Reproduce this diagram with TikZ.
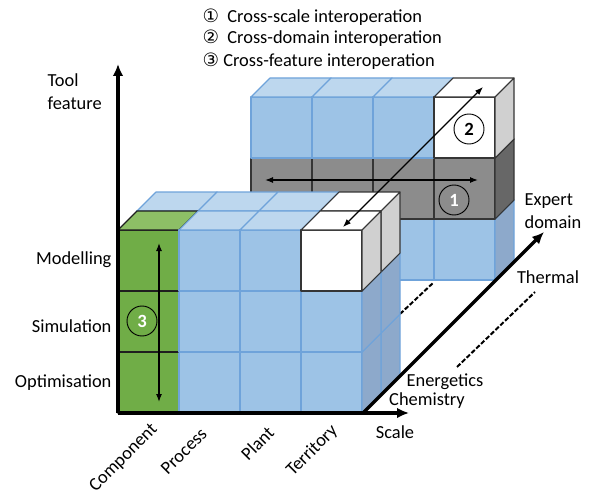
\documentclass[tikz,border=0pt]{standalone}
\usepackage{fontspec}
\setmainfont{Carlito}
\newfontfamily\circfont{DejaVu Sans}
\usepackage{xcolor}
\usetikzlibrary{arrows.meta,positioning}
\definecolor{bluefront}{HTML}{9DC3E6}
\definecolor{bluetop}{HTML}{BDD7EE}
\definecolor{blueside}{HTML}{8DA9CB}
\definecolor{blueline}{HTML}{6FA3DA}
\definecolor{greenfront}{HTML}{70AD47}
\definecolor{greentop}{HTML}{8DBF66}
\definecolor{greenside}{HTML}{5E9A38}
\definecolor{greenline}{HTML}{1E1E1E}
\definecolor{grayfront}{HTML}{8C8C8C}
\definecolor{graytop}{HTML}{A6A6A6}
\definecolor{grayside}{HTML}{676767}
\definecolor{grayline}{HTML}{353535}
\definecolor{whitefront}{HTML}{FFFFFF}
\definecolor{whitetop}{HTML}{FFFFFF}
\definecolor{whiteside}{HTML}{D0D0D0}
\definecolor{whiteline}{HTML}{353535}
\tikzset{
    cubeedge/.style={line width=0.8pt, line join=round},
    axis/.style={-{Latex[length=9pt,width=8pt]}, line width=2.5pt},
    link/.style={{Latex[length=6pt,width=4.5pt]}-{Latex[length=6pt,width=4.5pt]}, line width=0.9pt},
    badge/.style={circle, draw, line width=0.7pt, minimum size=22.5pt, inner sep=0pt,
                  font=\fontsize{14}{16}\selectfont\bfseries},
    lbl/.style={inner sep=1pt},
    dots/.style={dashed, dash pattern=on 3.5pt off 1.5pt, line width=1.5pt}
}
% one cube: column, row, depth, colour
\newcommand{\cube}[4]{%
  \begin{scope}[shift={({118+61*#1+19*#3},{413-61*#2-19*#3})}]
    \filldraw[cubeedge, fill=#4front, draw=#4line] (0,0) rectangle (61,-61);
    \filldraw[cubeedge, fill=#4top, draw=#4line] (0,-61) -- (19,-80) -- (80,-80) -- (61,-61) -- cycle;
    \filldraw[cubeedge, fill=#4side, draw=#4line] (61,0) -- (80,-19) -- (80,-80) -- (61,-61) -- cycle;
  \end{scope}}

\begin{document}
\begin{tikzpicture}[x=0.75pt, y=-0.75pt, font=\fontsize{13.8}{17.2}\selectfont]
  \useasboundingbox (0,0) rectangle (592,492);

  % thermal block
  \foreach \i/\j/\col in {0/0/blue,1/0/blue,2/0/blue,3/0/blue,
                          0/1/gray,1/1/gray,2/1/gray,3/1/gray,
                          0/2/blue,1/2/blue,2/2/blue,3/2/white}
    \cube{\i}{\j}{7}{\col};

  \coordinate (back1) at (400,314);
  \coordinate (back2) at (433,283);
  \draw[dots] (back1) -- (back2);

  % energetics
  \foreach \i/\j/\col in {0/0/blue,1/0/blue,2/0/blue,3/0/blue,
                          0/1/blue,1/1/blue,2/1/blue,3/1/blue,
                          0/2/blue,1/2/blue,2/2/blue,3/2/white}
    \cube{\i}{\j}{1}{\col};
  % chemistry
  \foreach \i/\j/\col in {0/0/green,1/0/blue,2/0/blue,3/0/blue,
                          0/1/green,1/1/blue,2/1/blue,3/1/blue,
                          0/2/green,1/2/blue,2/2/blue,3/2/white}
    \cube{\i}{\j}{0}{\col};

  % axes
  \coordinate (O) at (118,413);
  \coordinate (D) at (363,413);
  \coordinate (ytip) at (118,64);
  \coordinate (xtip) at (409,413);
  \coordinate (ztip) at (544,232);
  \draw[axis] (O) -- (ytip);
  \draw[axis] (O) -- (xtip);
  \draw[axis] (D) -- (ztip);

  \node[lbl, anchor=west, align=left] (feat) at (46,92) {Tool\\feature};
  \node[lbl, anchor=east] (mod) at (113,260) {Modelling};
  \node[lbl, anchor=east] (sim) at (113,326) {Simulation};
  \node[lbl, anchor=east] (opt) at (113,383) {Optimisation};

  \node[lbl, rotate=45, anchor=east] (comp) at (156,426) {Component};
  \node[lbl, rotate=45, anchor=east] (proc) at (205,430) {Process};
  \node[lbl, rotate=45, anchor=east] (plant) at (272,429) {Plant};
  \node[lbl, rotate=45, anchor=east] (terr) at (336,427) {Territory};
  \node[lbl] (scale) at (395,432) {Scale};

  \node[lbl] (chem) at (427,401) {Chemistry};
  \node[lbl] (ener) at (445,382) {Energetics};
  \node[lbl] (therm) at (548,277) {Thermal};
  \node[lbl, anchor=west, align=left] (dom) at (523,211) {Expert\\domain};
  \coordinate (gap1) at (457,367);
  \coordinate (gap2) at (535,292);
  \draw[dots] (gap1) -- (gap2);

  % interoperation arrows
  \coordinate (s1) at (265,180);
  \coordinate (s2) at (478,180);
  \coordinate (d1) at (483,87);
  \coordinate (d2) at (343,227);
  \coordinate (f1) at (159,243);
  \coordinate (f2) at (159,402);
  \draw[link] (s1) -- (s2);
  \draw[link] (d1) -- (d2);
  \draw[link] (f1) -- (f2);
  \node[badge, text=white] (n1) at (454,200) {1};
  \node[badge] (n2) at (469,129) {2};
  \node[badge, text=white] (n3) at (142,321) {3};

  % legend
  \node[lbl, anchor=west] (leg1) at (201,17) {{\circfont ①}\ \ Cross-scale interoperation};
  \node[lbl, anchor=west] (leg2) at (201,38) {{\circfont ②}\ \ Cross-domain interoperation};
  \node[lbl, anchor=west] (leg3) at (201,61) {{\circfont ③}\ Cross-feature interoperation};
\end{tikzpicture}
\end{document}
